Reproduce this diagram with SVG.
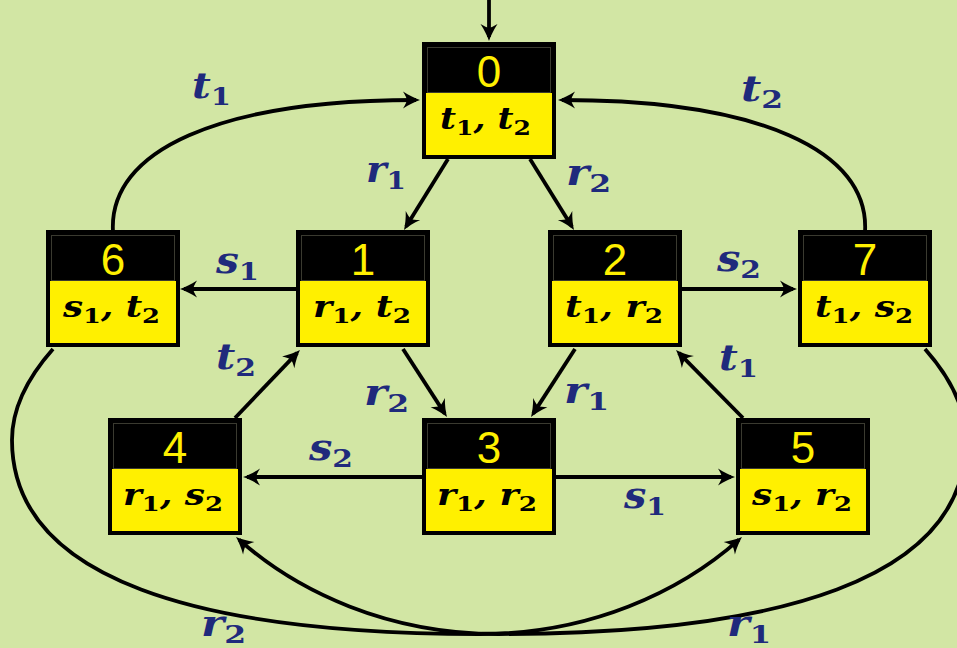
<svg xmlns="http://www.w3.org/2000/svg" width="957" height="648" viewBox="0 0 957 648">
<style>
.e{fill:none;stroke:#000;stroke-width:3.8;marker-end:url(#ah)}
.box{fill:#000;stroke:#000;stroke-width:4}
.inn{fill:none;stroke:#3a3a30;stroke-width:1}
.yel{fill:#fff000}
.num{font-family:"Liberation Sans",Arial,sans-serif;font-size:44px;fill:#fff000;text-anchor:middle}
.nl{font-family:"DejaVu Serif",serif;font-weight:bold;font-style:italic;font-size:29px;fill:#000}
.el{font-family:"DejaVu Serif",serif;font-weight:bold;font-style:italic;font-size:35px;fill:#1f2a7c}
.sub{font-family:"DejaVu Serif",serif;font-style:normal;font-weight:bold;font-size:21px}
.esub{font-family:"DejaVu Serif",serif;font-style:normal;font-weight:bold;font-size:25px}
</style>
<defs>
<marker id="ah" viewBox="-18 -10 24 20" markerWidth="24" markerHeight="20" refX="0" refY="0" orient="auto" markerUnits="userSpaceOnUse">
<path d="M4 0C-1-1.7-7-4.5-13-8.5C-10.5-4.5-9.5-2-9 0C-9.5 2-10.5 4.5-13 8.5C-7 4.5-1 1.7 4 0Z" fill="#000"/>
</marker>
</defs>
<rect width="957" height="648" fill="#d2e6a4"/>
<g id="connectors">
<path class="e" d="M489 0V37"/>
<path class="e" d="M448 159L406.1 226.6"/>
<path class="e" d="M530 159L571.9 226.6"/>
<path class="e" d="M113 232C108 150 220 100 416 100"/>
<path class="e" d="M865 232C870 150 758 100 562 100"/>
<path class="e" d="M296 289H184"/>
<path class="e" d="M682 289H793"/>
<path class="e" d="M403 349L444.8 413.6"/>
<path class="e" d="M575 349L533.2 413.6"/>
<path class="e" d="M235 418L297.2 352.9"/>
<path class="e" d="M743 418L678.8 352.8"/>
<path class="e" d="M422 477H247"/>
<path class="e" d="M556 477H731"/>
<path class="e" d="M53 349C30 375 12 405 12 440C12 580 200 634 480 634C590 634 680 592 739 539.6"/>
<path class="e" d="M925 349C948 375 966 405 966 440C966 580 778 634 498 634C388 634 298 592 239 539.6"/>
</g>
<g id="node0">
<rect class="box" x="424" y="44" width="130" height="113"/>
<rect class="inn" x="427.5" y="47.5" width="123" height="45"/>
<rect class="yel" x="426" y="93" width="126" height="62"/>
<text class="num" x="489" y="87">0</text>
<text class="nl" x="440" y="129" textLength="91" lengthAdjust="spacingAndGlyphs">t<tspan class="sub" dy="6">1</tspan><tspan dy="-6">, t</tspan><tspan class="sub" dy="6">2</tspan></text>
</g>
<g id="node1">
<rect class="box" x="298" y="232" width="130" height="113"/>
<rect class="inn" x="301.5" y="235.5" width="123" height="45"/>
<rect class="yel" x="300" y="281" width="126" height="62"/>
<text class="num" x="363" y="275">1</text>
<text class="nl" x="313" y="317" textLength="98" lengthAdjust="spacingAndGlyphs">r<tspan class="sub" dy="6">1</tspan><tspan dy="-6">, t</tspan><tspan class="sub" dy="6">2</tspan></text>
</g>
<g id="node2">
<rect class="box" x="550" y="232" width="130" height="113"/>
<rect class="inn" x="553.5" y="235.5" width="123" height="45"/>
<rect class="yel" x="552" y="281" width="126" height="62"/>
<text class="num" x="615" y="275">2</text>
<text class="nl" x="565" y="317" textLength="98" lengthAdjust="spacingAndGlyphs">t<tspan class="sub" dy="6">1</tspan><tspan dy="-6">, r</tspan><tspan class="sub" dy="6">2</tspan></text>
</g>
<g id="node6">
<rect class="box" x="48" y="232" width="130" height="113"/>
<rect class="inn" x="51.5" y="235.5" width="123" height="45"/>
<rect class="yel" x="50" y="281" width="126" height="62"/>
<text class="num" x="113" y="275">6</text>
<text class="nl" x="63" y="317" textLength="97" lengthAdjust="spacingAndGlyphs">s<tspan class="sub" dy="6">1</tspan><tspan dy="-6">, t</tspan><tspan class="sub" dy="6">2</tspan></text>
</g>
<g id="node7">
<rect class="box" x="800" y="232" width="130" height="113"/>
<rect class="inn" x="803.5" y="235.5" width="123" height="45"/>
<rect class="yel" x="802" y="281" width="126" height="62"/>
<text class="num" x="865" y="275">7</text>
<text class="nl" x="815" y="317" textLength="98" lengthAdjust="spacingAndGlyphs">t<tspan class="sub" dy="6">1</tspan><tspan dy="-6">, s</tspan><tspan class="sub" dy="6">2</tspan></text>
</g>
<g id="node4">
<rect class="box" x="110" y="420" width="130" height="113"/>
<rect class="inn" x="113.5" y="423.5" width="123" height="45"/>
<rect class="yel" x="112" y="469" width="126" height="62"/>
<text class="num" x="175" y="463">4</text>
<text class="nl" x="123" y="505" textLength="100" lengthAdjust="spacingAndGlyphs">r<tspan class="sub" dy="6">1</tspan><tspan dy="-6">, s</tspan><tspan class="sub" dy="6">2</tspan></text>
</g>
<g id="node3">
<rect class="box" x="424" y="420" width="130" height="113"/>
<rect class="inn" x="427.5" y="423.5" width="123" height="45"/>
<rect class="yel" x="426" y="469" width="126" height="62"/>
<text class="num" x="489" y="463">3</text>
<text class="nl" x="437" y="505" textLength="100" lengthAdjust="spacingAndGlyphs">r<tspan class="sub" dy="6">1</tspan><tspan dy="-6">, r</tspan><tspan class="sub" dy="6">2</tspan></text>
</g>
<g id="node5">
<rect class="box" x="738" y="420" width="130" height="113"/>
<rect class="inn" x="741.5" y="423.5" width="123" height="45"/>
<rect class="yel" x="740" y="469" width="126" height="62"/>
<text class="num" x="803" y="463">5</text>
<text class="nl" x="752" y="505" textLength="100" lengthAdjust="spacingAndGlyphs">s<tspan class="sub" dy="6">1</tspan><tspan dy="-6">, r</tspan><tspan class="sub" dy="6">2</tspan></text>
</g>
<g id="edge-labels">
<text class="el" x="192" y="98" textLength="39" lengthAdjust="spacingAndGlyphs">t<tspan class="esub" dy="7">1</tspan></text>
<text class="el" x="741" y="101" textLength="42" lengthAdjust="spacingAndGlyphs">t<tspan class="esub" dy="7">2</tspan></text>
<text class="el" x="366" y="182" textLength="40" lengthAdjust="spacingAndGlyphs">r<tspan class="esub" dy="7">1</tspan></text>
<text class="el" x="566" y="185" textLength="45" lengthAdjust="spacingAndGlyphs">r<tspan class="esub" dy="7">2</tspan></text>
<text class="el" x="216" y="273" textLength="43" lengthAdjust="spacingAndGlyphs">s<tspan class="esub" dy="7">1</tspan></text>
<text class="el" x="717" y="271" textLength="44" lengthAdjust="spacingAndGlyphs">s<tspan class="esub" dy="7">2</tspan></text>
<text class="el" x="216" y="369" textLength="40" lengthAdjust="spacingAndGlyphs">t<tspan class="esub" dy="7">2</tspan></text>
<text class="el" x="719" y="370" textLength="39" lengthAdjust="spacingAndGlyphs">t<tspan class="esub" dy="7">1</tspan></text>
<text class="el" x="364" y="405" textLength="45" lengthAdjust="spacingAndGlyphs">r<tspan class="esub" dy="7">2</tspan></text>
<text class="el" x="564" y="403" textLength="45" lengthAdjust="spacingAndGlyphs">r<tspan class="esub" dy="7">1</tspan></text>
<text class="el" x="309" y="460" textLength="44" lengthAdjust="spacingAndGlyphs">s<tspan class="esub" dy="7">2</tspan></text>
<text class="el" x="624" y="508" textLength="42" lengthAdjust="spacingAndGlyphs">s<tspan class="esub" dy="7">1</tspan></text>
<text class="el" x="201" y="636" textLength="45" lengthAdjust="spacingAndGlyphs">r<tspan class="esub" dy="7">2</tspan></text>
<text class="el" x="727" y="636" textLength="44" lengthAdjust="spacingAndGlyphs">r<tspan class="esub" dy="7">1</tspan></text>
</g>
</svg>
